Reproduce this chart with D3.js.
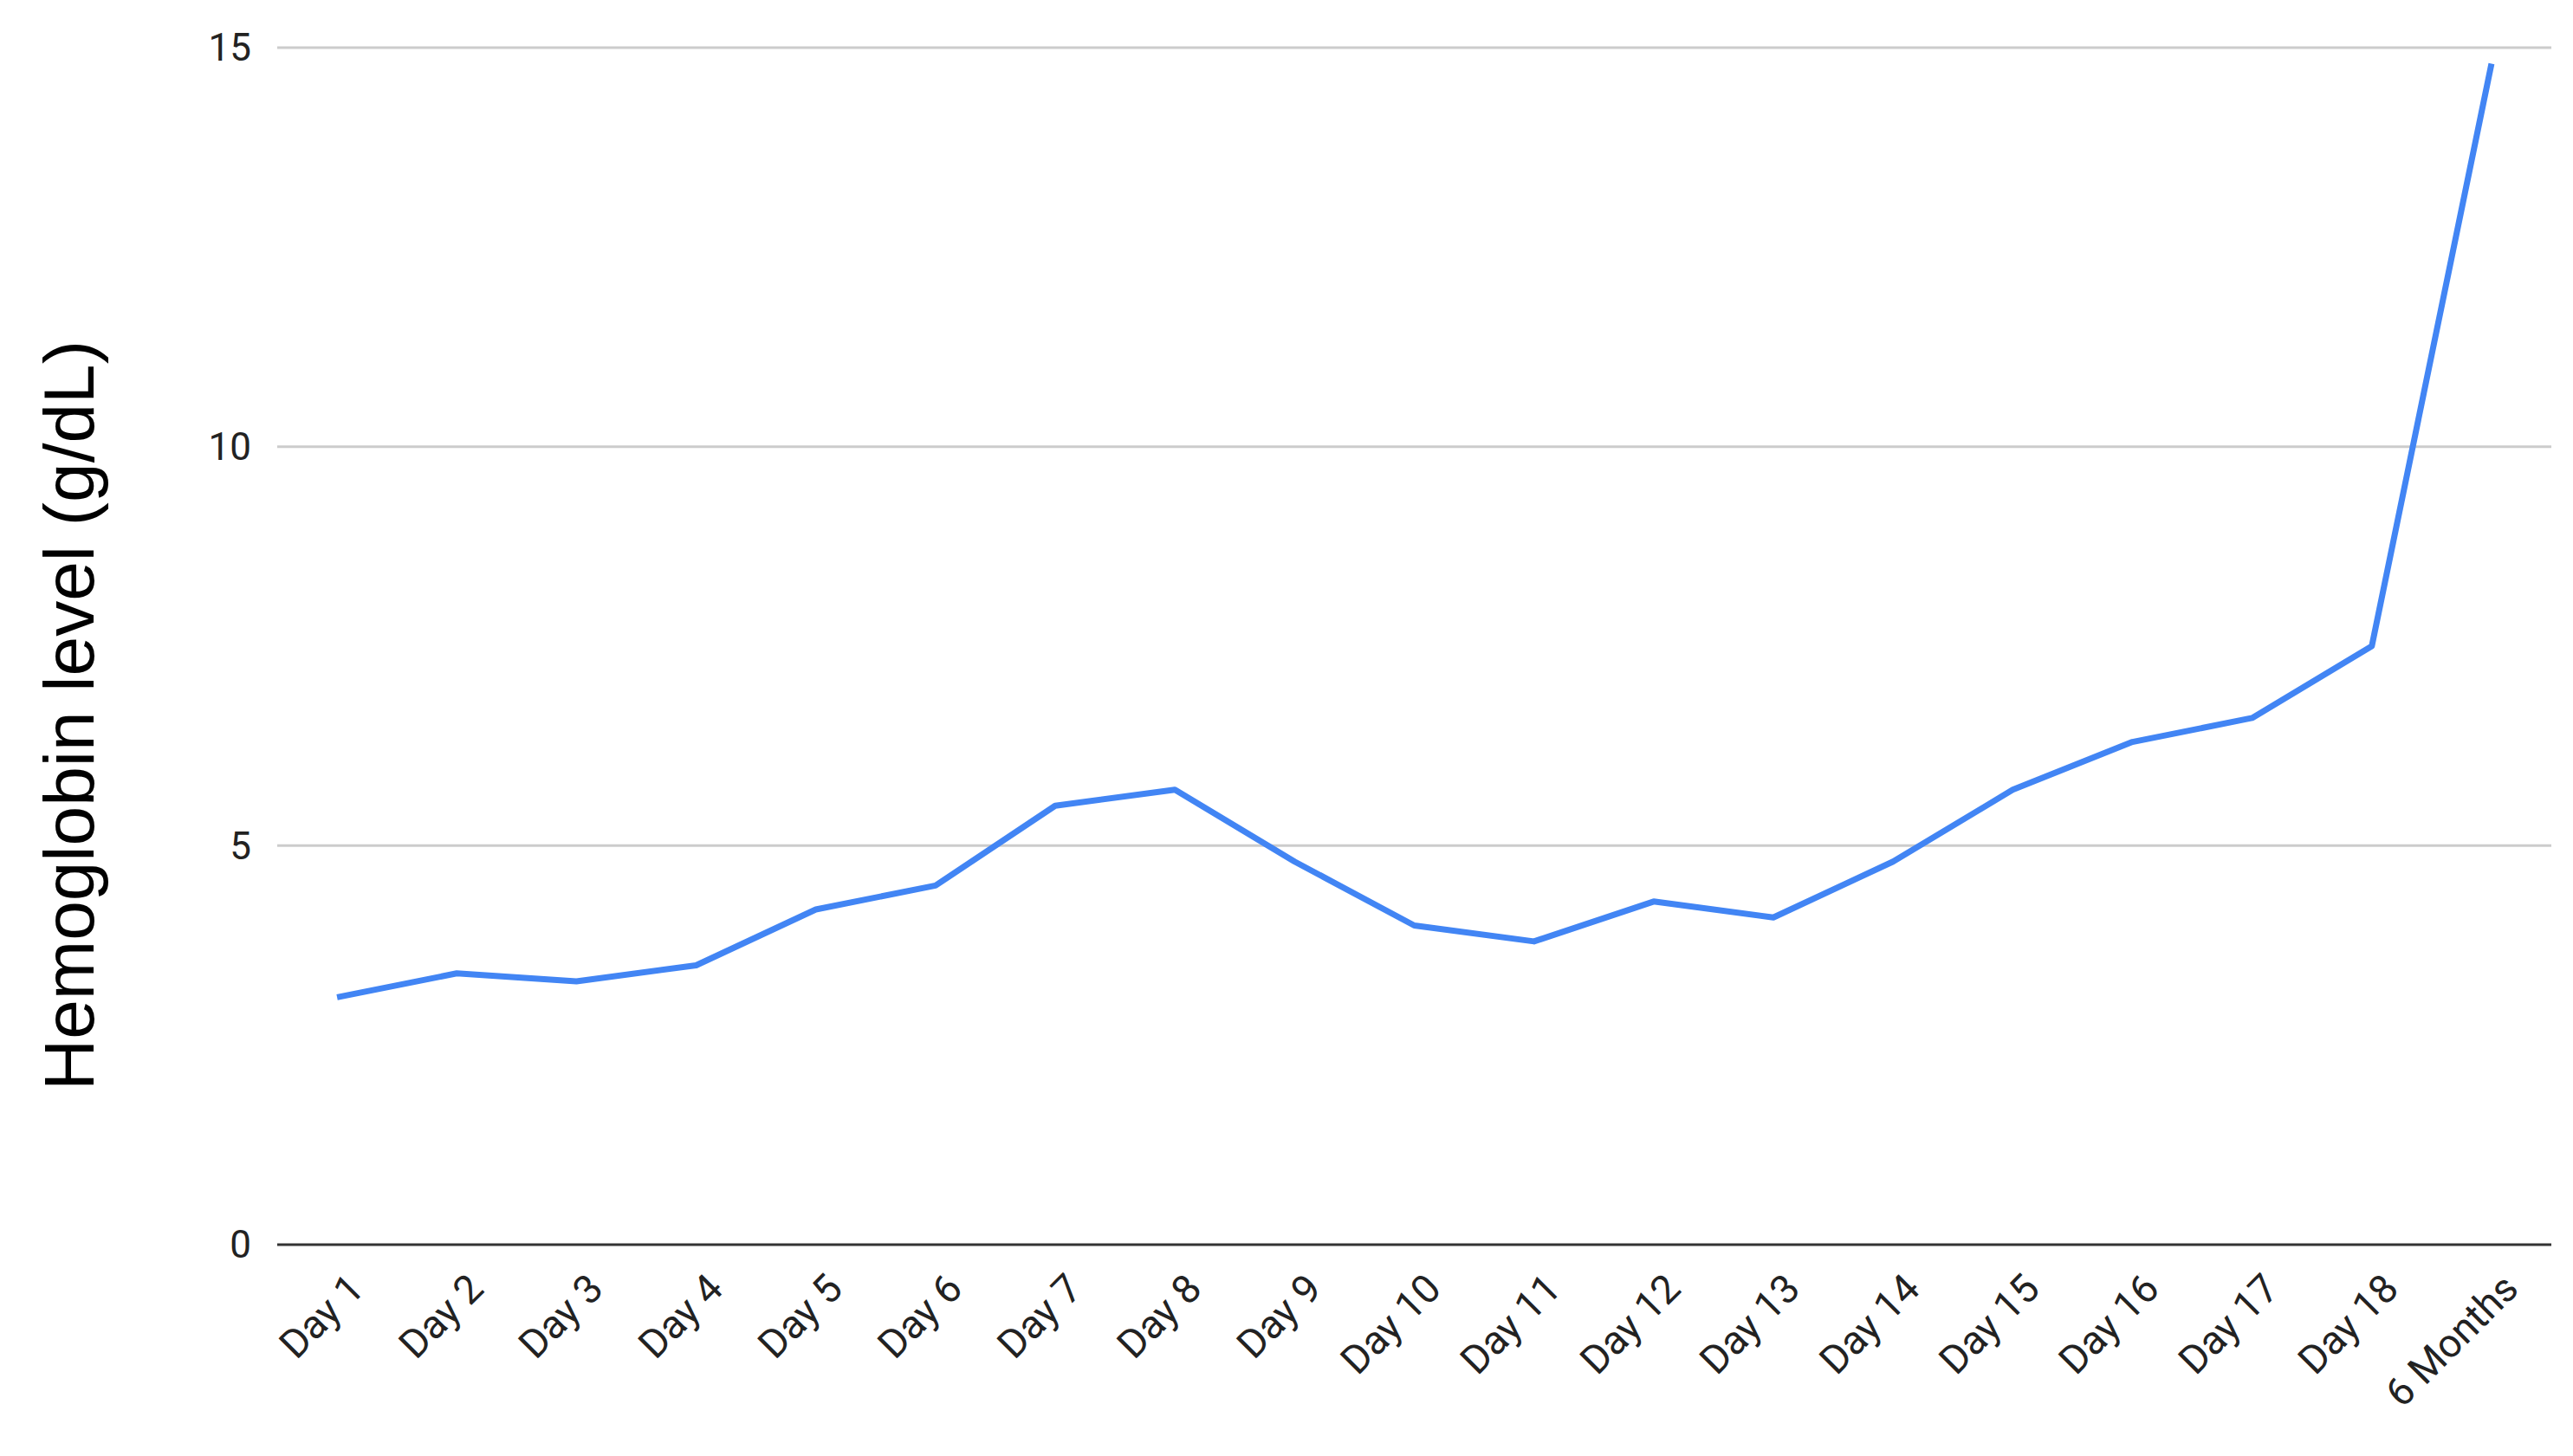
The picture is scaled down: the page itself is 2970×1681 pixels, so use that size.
<!DOCTYPE html>
<html><head><meta charset="utf-8">
<script src="https://cdn.jsdelivr.net/npm/d3@7"></script>
<style>body{margin:0;background:#fff}</style>
</head><body>
<svg id="chart" width="2970" height="1681"></svg>
<script>
// data
var categories = ["Day 1","Day 2","Day 3","Day 4","Day 5","Day 6","Day 7","Day 8","Day 9","Day 10",
  "Day 11","Day 12","Day 13","Day 14","Day 15","Day 16","Day 17","Day 18","6 Months"];
var hemoglobin = [3.1,3.4,3.3,3.5,4.2,4.5,5.5,5.7,4.8,4.0,3.8,4.3,4.1,4.8,5.7,6.3,6.6,7.5,14.8];
var yTicks = [0,5,10,15];

var svg = d3.select("#chart");
var plotLeft = 320, plotRight = 2945, plotTop = 55, plotBottom = 1437;

var x = d3.scalePoint().domain(categories).range([plotLeft, plotRight]).padding(0.5);
var y = d3.scaleLinear().domain([0, 15]).range([plotBottom, plotTop]);

// gridlines
svg.selectAll(".grid").data(yTicks.filter(d => d > 0)).enter().append("line")
  .attr("x1", plotLeft).attr("x2", plotRight)
  .attr("y1", d => y(d)).attr("y2", d => y(d))
  .attr("stroke", "#cccccc").attr("stroke-width", 3);
svg.append("line").attr("x1", plotLeft).attr("x2", plotRight)
  .attr("y1", plotBottom).attr("y2", plotBottom)
  .attr("stroke", "#333").attr("stroke-width", 3);

// y tick labels
svg.selectAll(".ytick").data(yTicks).enter().append("text")
  .attr("x", 290).attr("y", d => y(d)).attr("dy", "0.35em")
  .attr("text-anchor", "end")
  .attr("font-family", "Roboto, Arial, sans-serif").attr("font-size", 44)
  .attr("fill", "#222").text(d => d);

// x tick labels, rotated
svg.selectAll(".xtick").data(categories).enter().append("text")
  .attr("transform", d => "translate(" + (x(d) + 22) + "," + (plotBottom + 42) + ") rotate(-45)")
  .attr("text-anchor", "end").attr("dy", "0.35em")
  .attr("font-family", "Roboto, Arial, sans-serif").attr("font-size", 46)
  .attr("fill", "#222").text(d => d);

// y axis title
svg.append("text")
  .attr("transform", "translate(108," + ((plotTop + plotBottom) / 2 + 80) + ") rotate(-90)")
  .attr("text-anchor", "middle")
  .attr("font-family", "Arial, Liberation Sans, sans-serif").attr("font-size", 82)
  .attr("fill", "#000").text("Hemoglobin level (g/dL)");

// line
var line = d3.line().x((d, i) => x(categories[i])).y(d => y(d));
svg.append("path").datum(hemoglobin)
  .attr("d", line).attr("fill", "none")
  .attr("stroke", "#4285f4").attr("stroke-width", 7)
  .attr("stroke-linejoin", "round");
</script>
</body></html>
